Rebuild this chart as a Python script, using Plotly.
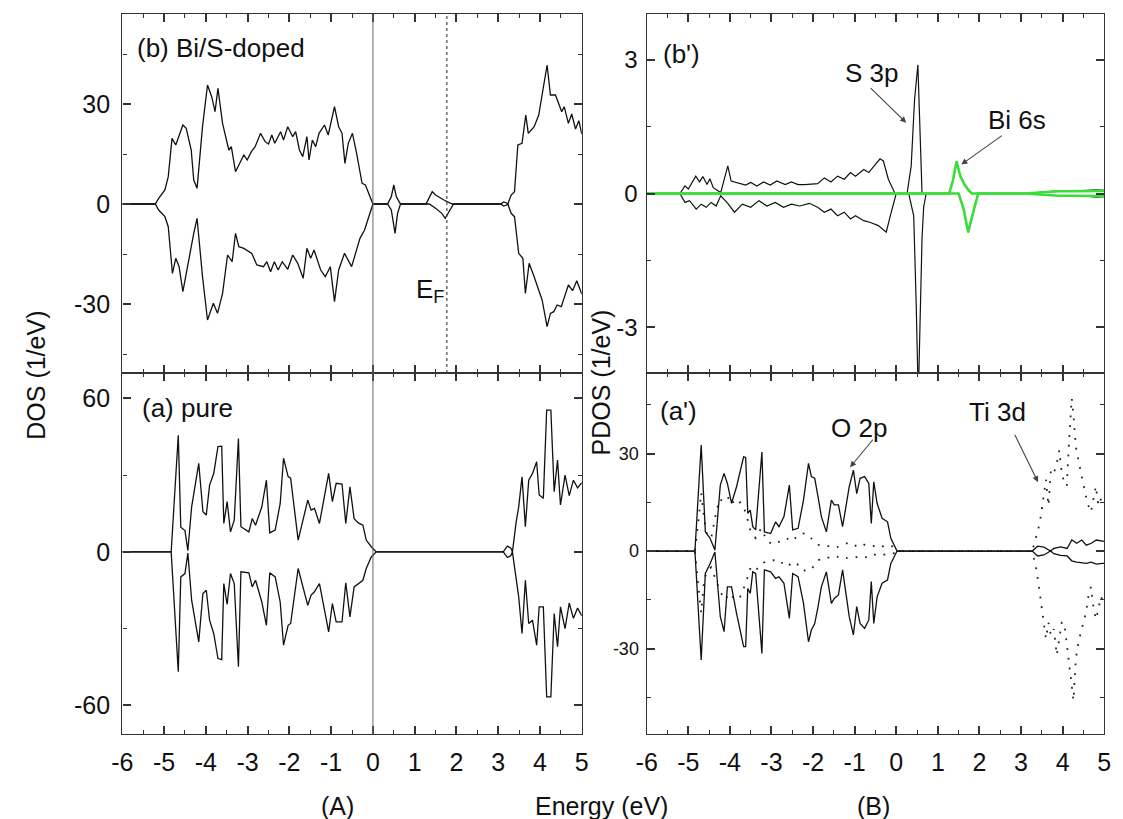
import plotly.graph_objects as go

# ---------------- data ----------------
# (b) Bi/S-doped total DOS, spin up / spin down
b_E_up = [-6, -5.21, -5.13, -4.98, -4.9, -4.81, -4.72, -4.55, -4.47, -4.35, -4.29, -4.21, -4.08, -3.96, -3.86,
          -3.78, -3.71, -3.6, -3.45, -3.39, -3.29, -3.19, -3.09, -3.01, -2.91, -2.82, -2.69, -2.58, -2.5, -2.42,
          -2.35, -2.21, -2.14, -2.04, -1.92, -1.85, -1.76, -1.68, -1.58, -1.53, -1.45, -1.37, -1.29, -1.16, -1.07,
          -0.92, -0.82, -0.74, -0.67, -0.59, -0.49, -0.39, -0.26, -0.18, 0.0, 0.35, 0.44, 0.5, 0.56, 0.66,
          1.27, 1.42, 1.5, 1.7, 1.9, 3.06, 3.13, 3.2, 3.23, 3.31, 3.39, 3.47, 3.57, 3.66, 3.72,
          3.86, 3.97, 4.17, 4.25, 4.37, 4.43, 4.52, 4.58, 4.68, 4.76, 4.85, 4.93, 5.0]
b_V_up = [0, 0, 1.7, 4.2, 8.2, 19.7, 17.7, 23.7, 22.7, 16.2, 7.2, 4.7, 23.2, 35.7, 32.2,
          27.7, 34.7, 24.2, 16.2, 17.2, 9.7, 12.2, 14.7, 13.2, 15.7, 17.2, 21.2, 18.7, 18.0, 20.7,
          18.2, 21.7, 19.2, 23.2, 20.2, 21.7, 16.2, 14.2, 20.2, 13.2, 19.2, 17.2, 21.2, 23.7, 20.7,
          29.2, 23.2, 21.2, 12.2, 18.2, 21.2, 15.2, 6.2, 5.7, 0, 0, 2.2, 5.7, 2.2, 0,
          0, 3.7, 2.7, 1.2, 0, 0, 0.6, 0.3, 0, 2.7, 3.7, 17.7, 18.2, 26.7, 21.2,
          23.2, 26.7, 41.7, 32.7, 32.7, 30.7, 27.7, 29.2, 24.2, 27, 22.5, 25, 21]
b_E_dn = [-6, -5.21, -5.13, -4.98, -4.9, -4.8, -4.72, -4.64, -4.55, -4.39, -4.29, -4.21, -4.08, -3.96, -3.82,
          -3.72, -3.6, -3.48, -3.37, -3.29, -3.21, -3.09, -2.9, -2.78, -2.62, -2.54, -2.45, -2.36, -2.27, -2.17,
          -2.04, -1.92, -1.8, -1.67, -1.58, -1.49, -1.41, -1.25, -1.14, -1.02, -0.92, -0.82, -0.68, -0.51, -0.41,
          -0.31, -0.2, 0.0, 0.35, 0.44, 0.53, 0.59, 0.66, 1.35, 1.5, 1.65, 1.73, 1.84, 1.93,
          3.06, 3.13, 3.2, 3.23, 3.31, 3.39, 3.49, 3.59, 3.65, 3.74, 3.86, 3.96, 4.05, 4.17,
          4.25, 4.33, 4.41, 4.51, 4.6, 4.68, 4.78, 4.88, 5.0]
b_V_dn = [0, 0, -1.8, -3.8, -6.8, -20.8, -16.3, -18.8, -26.3, -14.8, -8.8, -4.3, -21.8, -34.8, -29.8,
          -32.8, -26.8, -15.3, -17.3, -8.8, -12.8, -13.3, -14.8, -18.3, -18.8, -17.3, -20.3, -17.3, -19.8, -17.3,
          -19.6, -15.3, -17.8, -22.3, -13.3, -16.3, -13.8, -19.8, -21.8, -18.8, -29.3, -19.8, -14.8, -18.8, -14.8,
          -10.3, -7.8, 0, 0, -1.8, -8.8, -2.8, 0, 0, -1.3, -2.8, -4.3, -1.8, 0,
          0, -0.6, -0.3, 0, -2.8, -3.8, -14.8, -16.3, -26.8, -17.8, -21.8, -25.8, -28.8, -36.8,
          -32.8, -32.3, -30.3, -30.8, -27.3, -24.3, -26, -23, -27]

# (a) pure total DOS
a_E = [-6, -4.83, -4.66, -4.6, -4.5, -4.43, -4.34, -4.17, -4.07, -3.99, -3.91, -3.81, -3.71, -3.62, -3.57,
       -3.49, -3.41, -3.32, -3.22, -3.16, -2.97, -2.89, -2.81, -2.66, -2.55, -2.47, -2.34, -2.22, -2.14, -2.03,
       -1.97, -1.79, -1.56, -1.48, -1.4, -1.28, -1.06, -0.97, -0.88, -0.74, -0.65, -0.55, -0.45, -0.35, -0.24,
       -0.16, -0.04, 0.08, 3.12, 3.22, 3.3, 3.34, 3.43, 3.49, 3.57, 3.65, 3.73, 3.82, 3.92, 3.98,
       4.08, 4.16, 4.26, 4.34, 4.42, 4.49, 4.6, 4.7, 4.8, 4.9, 5.0]
a_V_up = [0, 0, 45.6, 9.6, 8.3, 0.5, 17.6, 34.6, 15.7, 14.4, 26.1, 30.7, 41.1, 41.3, 11.1,
          19.6, 7.8, 12.4, 44.3, 9.8, 7.8, 13.0, 10.4, 17.6, 28.0, 7.4, 8.5, 18.9, 36.6, 29.4,
          28.8, 4.6, 20.2, 16.3, 17.0, 11.1, 30.7, 19.6, 26.8, 26.5, 11.1, 25.4, 13.0, 11.3, 10.4,
          4.6, 2.0, 0, 0, 2.2, 1.5, 0, 11.7, 17.6, 29.3, 9.8, 28.0, 30.6, 35.2, 22.2,
          20.9, 55.4, 55.4, 23.5, 35.9, 18.3, 30, 22, 28, 25, 27]
a_V_dn = [0, 0, -46.9, -9.8, -8.5, -0.5, -18.9, -35.2, -16.3, -15.0, -26.7, -32.0, -41.7, -42.1, -12.4,
          -20.5, -8.5, -12.4, -44.9, -7.8, -8.2, -13.7, -11.1, -19.6, -28.7, -8.2, -9.8, -19.6, -36.5, -28.7,
          -28.0, -6.5, -20.9, -16.9, -15.6, -12.4, -31.3, -20.2, -27.4, -27.4, -12.1, -25.4, -13.7, -12.4, -11.1,
          -6.5, -2.0, 0, 0, -2.2, -1.5, 0, -11.7, -17.6, -31.9, -11.1, -28.0, -26.7, -36.5, -21.5,
          -21.5, -56.7, -56.7, -24.1, -37.1, -21.5, -30, -20, -26, -22, -25]

# (b') PDOS: S 3p (black) and Bi 6s (green)
s_E_up = [-6, -5.2, -5.08, -5.0, -4.82, -4.73, -4.65, -4.55, -4.48, -4.4, -4.22, -4.05, -3.97, -3.78, -3.62,
          -3.5, -3.35, -3.19, -3.03, -2.87, -2.67, -2.52, -2.36, -2.2, -1.89, -1.73, -1.57, -1.41, -1.25, -1.1,
          -0.98, -0.78, -0.66, -0.54, -0.39, -0.31, -0.19, -0.03, 0.26, 0.36, 0.44, 0.52, 0.57, 0.62, 1.27,
          1.36, 1.45, 1.54, 1.64, 1.75, 1.82, 3.1, 3.5, 3.9, 4.2, 4.5, 4.8, 5.0]
s_V_up = [0, 0, 0.17, 0.1, 0.39, 0.26, 0.38, 0.2, 0.33, 0.13, 0.02, 0.62, 0.28, 0.23, 0.19,
          0.25, 0.17, 0.26, 0.19, 0.28, 0.2, 0.26, 0.2, 0.2, 0.22, 0.35, 0.26, 0.39, 0.32, 0.47,
          0.39, 0.54, 0.47, 0.61, 0.78, 0.73, 0.32, 0, 0, 0.62, 2.1, 2.89, 1.37, 0, 0,
          0.28, 0.72, 0.39, 0.2, 0.06, 0, 0, 0.03, 0.06, 0.05, 0.07, 0.08, 0.07]
s_E_dn = [-6, -5.2, -5.08, -4.97, -4.81, -4.69, -4.57, -4.45, -4.33, -4.22, -4.05, -3.89, -3.7, -3.5, -3.3,
          -3.11, -2.91, -2.71, -2.52, -2.32, -2.09, -1.89, -1.73, -1.57, -1.41, -1.25, -1.1, -0.98, -0.78, -0.62,
          -0.43, -0.24, -0.12, 0.0, 0.3, 0.42, 0.48, 0.53, 0.57, 0.62, 0.66, 0.72, 1.5, 1.62, 1.73,
          1.85, 1.97, 3.1, 3.5, 3.9, 4.2, 4.5, 4.8, 5.0]
s_V_dn = [0, 0, -0.2, -0.16, -0.35, -0.24, -0.31, -0.2, -0.28, -0.05, -0.22, -0.42, -0.24, -0.31, -0.16,
          -0.28, -0.2, -0.31, -0.24, -0.28, -0.22, -0.31, -0.42, -0.35, -0.5, -0.42, -0.57, -0.5, -0.61, -0.65,
          -0.72, -0.87, -0.42, 0, 0, -0.5, -2.5, -4.6, -3.0, -1.0, -0.3, 0, 0, -0.35, -0.87,
          -0.42, 0, 0, -0.03, -0.05, -0.06, -0.05, -0.08, -0.07]
bi_E_up = [-6, 1.27, 1.36, 1.45, 1.54, 1.64, 1.75, 1.82, 3.1, 3.5, 3.9, 4.2, 4.5, 4.8, 5.0]
bi_V_up = [0, 0, 0.28, 0.72, 0.39, 0.2, 0.06, 0, 0, 0.03, 0.05, 0.05, 0.06, 0.07, 0.06]
bi_E_dn = [-6, 1.5, 1.62, 1.73, 1.85, 1.97, 3.1, 3.5, 3.9, 4.2, 4.5, 4.8, 5.0]
bi_V_dn = [0, 0, -0.35, -0.87, -0.42, 0, 0, -0.03, -0.05, -0.05, -0.06, -0.07, -0.06]

# (a') PDOS: O 2p (solid) and Ti 3d (dotted)
o_E = [-6, -4.84, -4.69, -4.59, -4.48, -4.36, -4.23, -4.14, -4.06, -3.96, -3.84, -3.67, -3.62, -3.57, -3.51,
       -3.45, -3.38, -3.23, -3.17, -3.02, -2.9, -2.82, -2.7, -2.57, -2.49, -2.36, -2.23, -2.11, -2.04, -1.96,
       -1.88, -1.8, -1.68, -1.56, -1.49, -1.39, -1.29, -1.13, -1.03, -0.95, -0.87, -0.76, -0.66, -0.6, -0.54,
       -0.46, -0.34, -0.21, -0.13, 0.02, 3.27, 3.4, 3.55, 3.71, 3.79, 3.95, 4.11, 4.22, 4.34, 4.46,
       4.57, 4.69, 4.81, 4.96, 5.0]
o_V_up = [0, 0, 32.6, 5.9, 4.0, 0.3, 20.3, 23.9, 20.8, 14.7, 19.8, 29.0, 28.8, 11.6, 12.6,
          7.5, 6.5, 30.5, 5.9, 5.4, 9.0, 7.5, 10.6, 20.3, 6.5, 7.0, 15.7, 27.0, 22.9, 22.4,
          16.7, 10.6, 5.9, 15.7, 14.2, 14.2, 7.5, 19.8, 24.9, 17.7, 22.4, 22.9, 20.8, 8.5, 21.3,
          14.7, 10.1, 9.0, 3.9, 0, 0, 1.5, 1.2, 0, 0.8, 1.3, 0.8, 3.4, 2.4, 3.4,
          1.8, 2.4, 3.4, 3.2, 3.0]
o_V_dn = [0, 0, -33.5, -6.9, -4.0, -0.3, -20.2, -24.8, -11.0, -11.0, -19.2, -29.4, -29.4, -11.5, -13.0,
          -6.4, -6.9, -31.5, -5.8, -6.4, -8.4, -7.9, -9.9, -20.7, -6.9, -7.9, -16.1, -27.9, -24.3, -22.3,
          -17.1, -11.0, -6.4, -16.1, -14.6, -13.5, -5.8, -20.2, -25.8, -17.1, -22.3, -23.8, -21.2, -9.4, -22.3,
          -14.1, -9.9, -8.9, -3.8, 0, 0, -1.5, -1.2, 0, -0.8, -1.3, -1.5, -3.0, -3.4, -3.5,
          -3.8, -3.4, -4.0, -3.8, -3.8]
ti_E = [-6, -4.84, -4.75, -4.69, -4.62, -4.55, -4.45, -4.36, -4.25, -4.12, -4.0, -3.88, -3.75, -3.62, -3.5,
        -3.38, -3.25, -3.1, -2.95, -2.8, -2.65, -2.5, -2.35, -2.2, -2.05, -1.9, -1.75, -1.6, -1.45, -1.3,
        -1.15, -1.0, -0.85, -0.7, -0.55, -0.4, -0.25, -0.1, 0.02, 3.27, 3.36, 3.42, 3.48, 3.54, 3.6,
        3.66, 3.72, 3.79, 3.86, 3.92, 3.98, 4.04, 4.1, 4.16, 4.22, 4.26, 4.32, 4.38, 4.44, 4.5,
        4.56, 4.62, 4.68, 4.74, 4.8, 4.86, 4.92, 5.0]
ti_V_up = [0, 0, 10, 18, 10, 5, 4, 10, 16, 15, 17, 14, 15, 12, 6,
           4, 7, 3, 2, 3, 4, 3, 5, 5.5, 4, 2, 1.5, 1.5, 1, 2,
           2.5, 1.5, 2.5, 1.5, 1.5, 2, 1, 1.5, 0, 0, 4, 7, 11, 16, 22,
           14, 25, 24, 27, 31, 24, 21, 20, 35, 47, 42, 32, 28, 24, 20,
           17, 14, 12, 16, 20, 14, 16, 14]
ti_V_dn = [0, 0, -12, -19, -9, -6, -5, -8, -12, -15, -13, -15, -14, -10, -5,
           -6, -4, -3, -2.8, -4, -3, -5, -4, -6, -5.8, -3, -2, -2, -1.5, -2.5,
           -2, -2, -1.5, -2, -1, -1.5, -1, -1, 0, 0, -5, -10, -16, -21, -27,
           -22, -26, -24, -32, -27, -22, -22, -29, -35, -43, -46, -33, -28, -25, -22,
           -19, -14, -11, -17, -21, -18, -14, -16]

# tick values
x_ticks = [-6, -5, -4, -3, -2, -1, 0, 1, 2, 3, 4, 5]
y_ticks_b = [-30, 0, 30]
y_ticks_a = [-60, 0, 60]
y_ticks_bp = [-3, 0, 3]
y_ticks_ap = [-30, 0, 30]
E_F = 1.77

# ---------------- figure ----------------
# the page body adds an 8 px margin at top/left: the figure is drawn 8 px smaller
# and target pixel positions are shifted by 8
OFF = 8
W, H = 1123 - OFF, 819 - OFF


def PX(p):
    return (p - OFF) / W


def PY(p):
    return (H - (p - OFF)) / H


LX = [PX(113), PX(580)]
RX = [PX(646), PX(1111)]
TOPY = [PY(373), PY(14)]
BOTY = [PY(734), PY(373)]

FONT = "Arial, Liberation Sans, sans-serif"
AX = "#333333"
LINE = "#111111"

fig = go.Figure()


def add_line(x, y, xa, ya, color=LINE, width=1.3, dash=None):
    fig.add_trace(go.Scatter(x=x, y=y, mode="lines", xaxis=xa, yaxis=ya,
                             line=dict(color=color, width=width, dash=dash),
                             hoverinfo="skip", showlegend=False))


# (b) top-left
add_line(b_E_up, b_V_up, "x", "y")
add_line(b_E_dn, b_V_dn, "x", "y")
# (a) bottom-left
add_line(a_E, a_V_up, "x2", "y2")
add_line(a_E, a_V_dn, "x2", "y2")
# (b') top-right
add_line(s_E_up, s_V_up, "x3", "y3", width=1.2)
add_line(s_E_dn, s_V_dn, "x3", "y3", width=1.2)
add_line(bi_E_up, bi_V_up, "x3", "y3", color="#3ade3a", width=2.6)
add_line(bi_E_dn, bi_V_dn, "x3", "y3", color="#3ade3a", width=2.6)
# (a') bottom-right
add_line(ti_E, ti_V_up, "x4", "y4", color="#222222", width=1.8, dash="1.8px,8px")
add_line(ti_E, ti_V_dn, "x4", "y4", color="#222222", width=1.8, dash="1.8px,8px")
add_line(o_E, o_V_up, "x4", "y4")
add_line(o_E, o_V_dn, "x4", "y4")


def xaxis(domain, anchor, labels):
    return dict(domain=domain, anchor=anchor, range=[-6, 5], tickvals=x_ticks,
                ticktext=[str(v) for v in x_ticks], showticklabels=labels,
                ticks="inside", ticklen=8, tickwidth=1.5, tickcolor=AX,
                minor=dict(dtick=0.5, tick0=0, ticks="inside", ticklen=4, tickwidth=1.3, tickcolor=AX),
                showline=True, linecolor=AX, linewidth=1.4, mirror="allticks",
                showgrid=False, zeroline=False, ticklabelstandoff=6,
                tickfont=dict(family=FONT, size=25, color="#111"))


def yaxis(domain, anchor, rng, tv, mdtick, fsize, standoff):
    return dict(domain=domain, anchor=anchor, range=rng, tickvals=tv,
                ticktext=[str(v) for v in tv],
                ticks="inside", ticklen=8, tickwidth=1.5, tickcolor=AX,
                minor=dict(dtick=mdtick, tick0=0, ticks="inside", ticklen=4, tickwidth=1.3, tickcolor=AX),
                showline=True, linecolor=AX, linewidth=1.4, mirror="allticks",
                showgrid=False, zeroline=False, ticklabelstandoff=standoff,
                tickfont=dict(family=FONT, size=fsize, color="#111"))


fig.update_layout(
    width=W, height=H,
    margin=dict(l=0, r=0, t=0, b=0),
    paper_bgcolor="white", plot_bgcolor="white",
    showlegend=False,
    font=dict(family=FONT, size=25, color="#111"),
    xaxis=xaxis(LX, "y", False),
    yaxis=yaxis(TOPY, "x", [-50.7, 57], y_ticks_b, 15, 25, 6),
    xaxis2=xaxis(LX, "y2", True),
    yaxis2=yaxis(BOTY, "x2", [-71.2, 69.9], y_ticks_a, 30, 25, 6),
    xaxis3=xaxis(RX, "y3", False),
    yaxis3=yaxis(TOPY, "x3", [-4.03, 4.03], y_ticks_bp, 1.5, 24, 3),
    xaxis4=xaxis(RX, "y4", True),
    yaxis4=yaxis(BOTY, "x4", [-56.3, 54.8], y_ticks_ap, 15, 18, 3),
)

# reference lines
fig.add_shape(type="line", xref="x", yref="paper", x0=0, x1=0, y0=BOTY[0], y1=TOPY[1],
              line=dict(color="#666666", width=1))
fig.add_shape(type="line", xref="x", yref="paper", x0=E_F, x1=E_F, y0=TOPY[0], y1=TOPY[1],
              line=dict(color="#444444", width=1.2, dash="3px,3px"))

ann = []


def txt(x, y, s, xref, yref, size=26, xanchor="center", angle=0):
    ann.append(dict(x=x, y=y, xref=xref, yref=yref, text=s, showarrow=False,
                    xanchor=xanchor, yanchor="middle", textangle=angle,
                    font=dict(family=FONT, size=size, color="#111")))


def arrow(x, y, ax, ay, xref, yref):
    ann.append(dict(x=x, y=y, xref=xref, yref=yref, ax=ax, ay=ay, text="",
                    showarrow=True, arrowhead=2, arrowsize=1.1, arrowwidth=1.1,
                    arrowcolor="#444444"))


txt(-5.69, 46.8, "(b) Bi/S-doped", "x", "y", xanchor="left")
txt(1.36, -25.8, "E<sub>F</sub>", "x", "y", size=26)
txt(-5.58, 56.2, "(a) pure", "x2", "y2", xanchor="left")
txt(-5.17, 3.13, "(b')", "x3", "y3")
txt(-0.59, 2.71, "S 3p", "x3", "y3")
arrow(0.24, 1.59, -37, -36, "x3", "y3")
txt(2.91, 1.66, "Bi 6s", "x3", "y3")
arrow(1.565, 0.65, 42, -30, "x3", "y3")
txt(-5.24, 43.1, "(a')", "x4", "y4")
txt(-0.89, 37.8, "O 2p", "x4", "y4")
arrow(-1.11, 25.8, 24, -29, "x4", "y4")
txt(2.44, 42.8, "Ti 3d", "x4", "y4")
arrow(3.41, 21.2, -24, -49, "x4", "y4")

txt(PX(25), PY(375), "DOS (1/eV)", "paper", "paper", size=25, angle=-90)
txt(PX(600), PY(382), "PDOS (1/eV)", "paper", "paper", size=25, angle=-90)
txt(PX(332), PY(806), "(A)", "paper", "paper", size=25)
txt(PX(600), PY(806), "Energy (eV)", "paper", "paper", size=25)
txt(PX(877), PY(806), "(B)", "paper", "paper", size=25)

fig.update_layout(annotations=ann)

fig.write_html("out.html")
